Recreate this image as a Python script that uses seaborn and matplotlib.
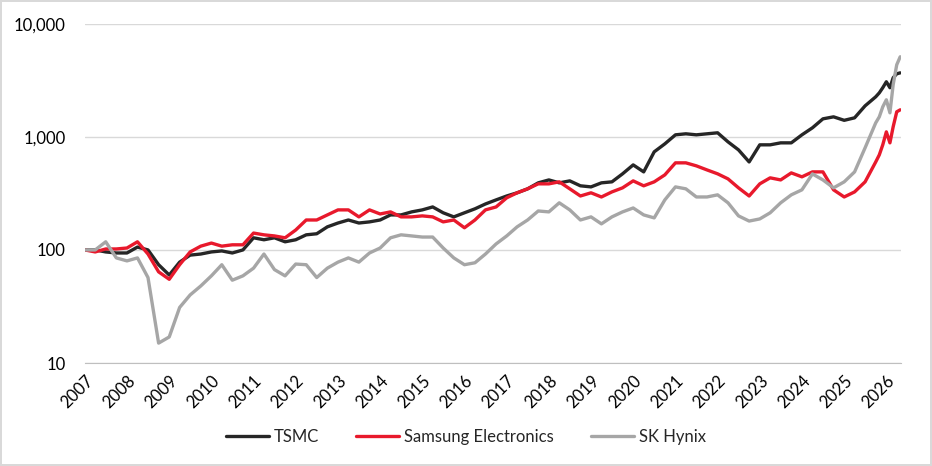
import pandas as pd
import seaborn as sns
import matplotlib.pyplot as plt
import matplotlib.dates as mdates
from matplotlib.ticker import FuncFormatter, NullLocator

# ------------------------- datas: trimestral + mensal no fim ------------------------- #
dates = list(pd.date_range('2007-01-01', '2025-07-01', freq='QS')) + \
        list(pd.date_range('2025-10-01', '2026-05-01', freq='MS'))

tsmc = [100, 100, 96, 94, 94, 106, 100, 74, 60, 78,
        90, 92, 96, 98, 94, 100, 128, 123, 128, 118,
        123, 136, 139, 160, 173, 184, 173, 177, 184, 204,
        204, 217, 226, 240, 213, 196, 213, 231, 255, 277,
        300, 320, 347, 392, 416, 392, 408, 369, 361, 392,
        400, 471, 565, 490, 737, 867, 1042, 1064, 1042, 1064,
        1086, 903, 767, 600, 850, 850, 885, 885, 1042, 1202,
        1443, 1503, 1400, 1473, 1880,
        2260, 2450, 2720, 3070, 2720, 3330, 3610, 3680]

samsung = [100, 96, 102, 102, 104, 118, 92, 64, 55, 74,
           96, 108, 115, 108, 111, 111, 141, 136, 133, 128,
           150, 184, 184, 204, 226, 226, 196, 226, 208, 217,
           196, 196, 200, 196, 177, 184, 157, 184, 226, 240,
           289, 320, 347, 384, 384, 400, 347, 300, 320, 294,
           326, 354, 408, 369, 400, 461, 589, 589, 554, 510,
           471, 425, 354, 300, 384, 434, 416, 480, 443, 490,
           490, 340, 294, 326, 400,
           600, 693, 850, 1107, 885, 1227, 1665, 1734]

hynix = [100, 100, 118, 85, 80, 85, 57, 15, 17, 31,
         40, 48, 59, 74, 54, 59, 69, 92, 67, 59,
         75, 74, 57, 69, 78, 85, 78, 94, 104, 128,
         136, 133, 130, 130, 104, 85, 74, 77, 92, 113,
         133, 160, 184, 221, 217, 261, 226, 184, 196, 170,
         196, 217, 235, 204, 192, 277, 361, 347, 294, 294,
         307, 261, 200, 180, 188, 213, 261, 307, 340, 470,
         416, 354, 400, 490, 800,
         1330, 1503, 1843, 2126, 1631, 2890, 4340, 5105]

companies = ['TSMC', 'Samsung Electronics', 'SK Hynix']
colors = {'TSMC': '#262626', 'Samsung Electronics': '#e8192c', 'SK Hynix': '#a6a6a6'}

df = pd.concat([
    pd.DataFrame({'date': dates, 'value': tsmc, 'company': 'TSMC'}),
    pd.DataFrame({'date': dates, 'value': samsung, 'company': 'Samsung Electronics'}),
    pd.DataFrame({'date': dates, 'value': hynix, 'company': 'SK Hynix'}),
], ignore_index=True)

# ---------------------------------- grafico ---------------------------------- #
sns.set_style('white')
plt.rcParams['font.family'] = ['Lato', 'DejaVu Sans']

fig, ax = plt.subplots(figsize=(9.32, 4.66), dpi=100)
fig.subplots_adjust(left=0.091, right=0.967, top=0.949, bottom=0.221)
fig.patch.set_edgecolor('#d9d9d9')
fig.patch.set_linewidth(1.5)

sns.lineplot(data=df, x='date', y='value', hue='company', hue_order=companies,
             palette=colors, linewidth=2.4, ax=ax)

ax.set_yscale('log')
ax.set_ylim(10, 10000)
ax.yaxis.set_major_formatter(FuncFormatter(lambda v, p: f'{v:,.0f}'))
ax.yaxis.set_minor_locator(NullLocator())
ax.grid(axis='y', color='#d9d9d9', linewidth=1)
ax.set_axisbelow(True)

ax.set_xlim(pd.Timestamp('2007-01-01'), pd.Timestamp('2026-05-10'))
ax.xaxis.set_major_locator(mdates.YearLocator())
ax.xaxis.set_major_formatter(mdates.DateFormatter('%Y'))
ax.xaxis.set_minor_locator(NullLocator())

for s in ['left', 'top', 'right']:
    ax.spines[s].set_visible(False)
ax.spines['bottom'].set_color('#bfbfbf')

ax.tick_params(axis='x', length=5, color='#bfbfbf', labelsize=12, labelcolor='#000000', pad=2)
ax.tick_params(axis='y', length=0, labelsize=12, labelcolor='#000000', pad=14)
for lab in ax.get_xticklabels():
    lab.set_rotation(45)
    lab.set_ha('right')
    lab.set_rotation_mode('anchor')

ax.set_xlabel('')
ax.set_ylabel('')

handles, labels = ax.get_legend_handles_labels()
ax.legend_.remove()
fig.legend(handles, labels, loc='center', bbox_to_anchor=(0.5, 0.062), ncol=3,
           frameon=False, fontsize=12, handlelength=2.6, columnspacing=2.2,
           handletextpad=0.3)

plt.savefig('out.png', dpi=100)
